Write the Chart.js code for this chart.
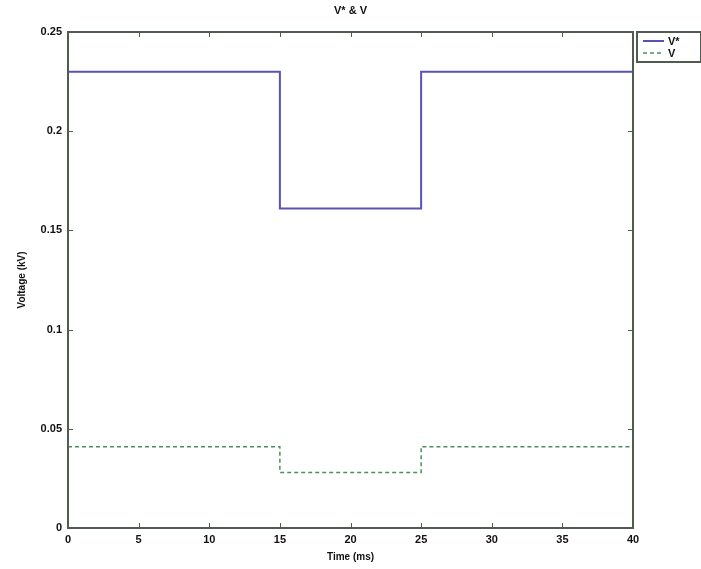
<!DOCTYPE html>
<html>
<head>
<meta charset="utf-8">
<script src="https://cdn.jsdelivr.net/npm/chart.js@4/dist/chart.umd.min.js"></script>
<style>
  html, body { margin: 0; padding: 0; background: #fff; }
  #wrap { width: 701px; height: 569px; }
</style>
</head>
<body>
<div id="wrap"><canvas id="c" width="701" height="569"></canvas></div>
<script>
// ---- data ----
const times = [0, 15, 25, 40];
const vStar = [0.23, 0.161, 0.23, 0.23];
const vOut = [0.041, 0.028, 0.041, 0.041];
const xTicks = [0, 5, 10, 15, 20, 25, 30, 35, 40];
const yTicks = [0, 0.05, 0.1, 0.15, 0.2, 0.25];
const seriesNames = ["V*", "V"];
const chartTitle = "V* & V";

const FONT = "'Liberation Sans', Arial, sans-serif";
const frameColor = "#4f5c4f";

function pts(vals) {
  return times.map((t, i) => ({ x: t, y: vals[i] }));
}

// frame, inward ticks, title and legend box (matlab look)
const matlabFrame = {
  id: "matlabFrame",
  afterDraw(chart) {
    const ctx = chart.ctx;
    const a = chart.chartArea;
    const xs = chart.scales.x, ys = chart.scales.y;
    ctx.save();
    ctx.strokeStyle = frameColor;
    ctx.lineWidth = 2;
    ctx.strokeRect(a.left, a.top, a.right - a.left, a.bottom - a.top);
    ctx.lineWidth = 1;
    ctx.beginPath();
    xTicks.forEach(v => {
      const px = Math.round(xs.getPixelForValue(v)) + 0.5;
      ctx.moveTo(px, a.bottom); ctx.lineTo(px, a.bottom - 5);
      ctx.moveTo(px, a.top); ctx.lineTo(px, a.top + 5);
    });
    yTicks.forEach(v => {
      const py = Math.round(ys.getPixelForValue(v)) + 0.5;
      ctx.moveTo(a.left, py); ctx.lineTo(a.left + 5, py);
      ctx.moveTo(a.right, py); ctx.lineTo(a.right - 5, py);
    });
    ctx.stroke();

    // title
    ctx.fillStyle = "#111";
    ctx.font = "bold 11px " + FONT;
    ctx.textAlign = "center";
    ctx.textBaseline = "middle";
    ctx.fillText(chartTitle, (a.left + a.right) / 2, 11);

    // legend box
    const lx = a.right + 4, ly = a.top, lw = 64, lh = 30;
    ctx.fillStyle = "#fff";
    ctx.fillRect(lx, ly, lw, lh);
    ctx.strokeStyle = frameColor;
    ctx.lineWidth = 2;
    ctx.strokeRect(lx, ly, lw, lh);
    chart.data.datasets.forEach((ds, i) => {
      const yy = ly + 9 + i * 12;
      ctx.strokeStyle = ds.borderColor;
      ctx.lineWidth = ds.borderWidth;
      ctx.setLineDash(ds.borderDash || []);
      ctx.beginPath();
      ctx.moveTo(lx + 6, yy); ctx.lineTo(lx + 27, yy);
      ctx.stroke();
      ctx.setLineDash([]);
      ctx.fillStyle = "#111";
      ctx.textAlign = "left";
      ctx.font = "bold 11px " + FONT;
      ctx.fillText(ds.label, lx + 31, yy + 1);
    });
    ctx.restore();
  }
};

new Chart(document.getElementById("c"), {
  type: "scatter",
  data: {
    datasets: [
      {
        label: seriesNames[0],
        data: pts(vStar),
        showLine: true,
        stepped: "before",
        borderColor: "#5a52b4",
        borderWidth: 2,
        pointRadius: 0,
        fill: false
      },
      {
        label: seriesNames[1],
        data: pts(vOut),
        showLine: true,
        stepped: "before",
        borderColor: "#4a9062",
        borderWidth: 1.5,
        borderDash: [4, 3],
        pointRadius: 0,
        fill: false
      }
    ]
  },
  options: {
    responsive: false,
    animation: false,
    layout: { padding: { left: 16, right: 68, top: 32, bottom: 6 } },
    plugins: {
      legend: { display: false },
      title: { display: false },
      tooltip: { enabled: false }
    },
    scales: {
      x: {
        type: "linear",
        min: 0, max: 40,
        afterFit(s) { s.height = 35; },
        afterBuildTicks(s) { s.ticks = xTicks.map(v => ({ value: v })); },
        grid: { display: false, drawTicks: false },
        border: { display: false },
        ticks: {
          padding: 5,
          color: "#111",
          font: { family: FONT, size: 11, weight: "bold" }
        },
        title: {
          display: true,
          text: "Time (ms)",
          color: "#111",
          padding: 0,
          font: { family: FONT, size: 10, weight: "bold" }
        }
      },
      y: {
        type: "linear",
        min: 0, max: 0.25,
        afterFit(s) { s.width = 52; },
        afterBuildTicks(s) { s.ticks = yTicks.map(v => ({ value: v })); },
        grid: { display: false, drawTicks: false },
        border: { display: false },
        ticks: {
          padding: 6,
          color: "#111",
          font: { family: FONT, size: 11, weight: "bold" },
          callback: v => String(+v.toFixed(2))
        },
        title: {
          display: true,
          text: "Voltage (kV)",
          color: "#111",
          padding: 0,
          font: { family: FONT, size: 10, weight: "bold" }
        }
      }
    }
  },
  plugins: [matlabFrame]
});
</script>
</body>
</html>
